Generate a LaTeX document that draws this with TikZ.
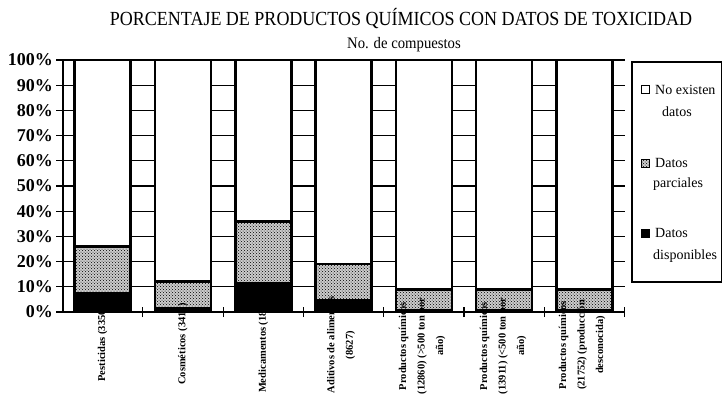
\documentclass[tikz,border=0pt]{standalone}
\usepackage{fontspec}
\setmainfont{Liberation Serif}
\usetikzlibrary{patterns}
\begin{document}
\begin{tikzpicture}[x=1pt,y=1pt,
  gridline/.style={line width=1.2pt},
  axisline/.style={line width=2pt},
  barline/.style={line width=2.6pt},
  partial/.style={fill=gray!40, postaction={pattern=crosshatch dots, pattern color=black}},
  avail/.style={fill=black},
  pct/.style={anchor=east, font=\bfseries\fontsize{18}{18}\selectfont, inner sep=0pt},
  catlabel/.style={rotate=90, align=center, font=\bfseries\fontsize{10.5}{18.5}\selectfont, inner sep=0pt},
  legtext/.style={anchor=base west, font=\fontsize{14}{14}\selectfont, inner sep=0pt},
  legsq/.style={draw=black, line width=1pt, minimum size=8pt, inner sep=0pt}
]
\useasboundingbox (0,0) rectangle (722,405);
\node[xscale=0.9] (title) at (401,386) {\fontsize{20}{20}\selectfont PORCENTAJE DE PRODUCTOS QUÍMICOS CON DATOS DE TOXICIDAD};
\node[xscale=0.92] (sub) at (404,360) {\fontsize{16}{16}\selectfont No. de compuestos};

\begin{scope}[shift={(0,93)}, y=2.52pt]
  \foreach \p in {10,20,...,100} \draw[gridline] (56,\p) -- (624.6,\p);
  \draw[gridline] (56,0) -- (62.5,0);
  \foreach \p in {0,10,...,100} \node[pct] (p\p) at (53,\p) {\p\%};
  \foreach \i/\d/\t in {1/8/26, 2/2/12, 3/12/36, 4/5/19, 5/1/9, 6/1/9, 7/1/9} {
    \pgfmathsetmacro\cx{62.5+80.3*(\i-0.5)}
    \fill[white] (\cx-28,0) rectangle (\cx+28,100);
    \fill[partial] (\cx-28,0) rectangle (\cx+28,\t);
    \fill[avail] (\cx-28,0) rectangle (\cx+28,\d);
    \draw[barline] (\cx-28,\t) -- (\cx+28,\t);
    \draw[barline] (\cx-28,0) rectangle (\cx+28,100);
  }
  \draw[axisline] (62.5,0) -- (62.5,100);
  \draw[axisline] (62.5,0) -- (624.6,0);
  \foreach \k in {1,...,7} \draw[gridline] (62.5+80.3*\k,-2) -- (62.5+80.3*\k,2);
\end{scope}

\node[catlabel] (c1) at (102.65,61) {Pesticidas (3350)};
\node[catlabel] (c2) at (182.95,61) {Cosméticos (3410)};
\node[catlabel] (c3) at (263.25,60) {Medicamentos (1815)};
\node[catlabel] (c4) at (341,60) {Aditivos de alimentos\\(8627)};
\node[catlabel] (c5) at (422,59) {Productos químicos\\(12860) (>500 ton por\\año)};
\node[catlabel] (c6) at (503,59) {Productos químicos\\(13911) (<500 ton por\\año)};
\node[catlabel] (c7) at (582,60) {Productos químicos\\(21752) (producción\\desconocida)};

\draw[line width=1.2pt] (632,123) rectangle (721.4,343);
\node[legsq, fill=white] (s1) at (645,315) {};
\node[legsq, partial] (s2) at (645,242) {};
\node[legsq, fill=black] (s3) at (645,172) {};
\node[legtext] (l1a) at (655,310.5) {No existen};
\node[legtext] (l1b) at (662,288.5) {datos};
\node[legtext] (l2a) at (655,237.5) {Datos};
\node[legtext] (l2b) at (653,217.5) {parciales};
\node[legtext] (l3a) at (655,167.5) {Datos};
\node[legtext] (l3b) at (653,145.5) {disponibles};
\end{tikzpicture}
\end{document}
